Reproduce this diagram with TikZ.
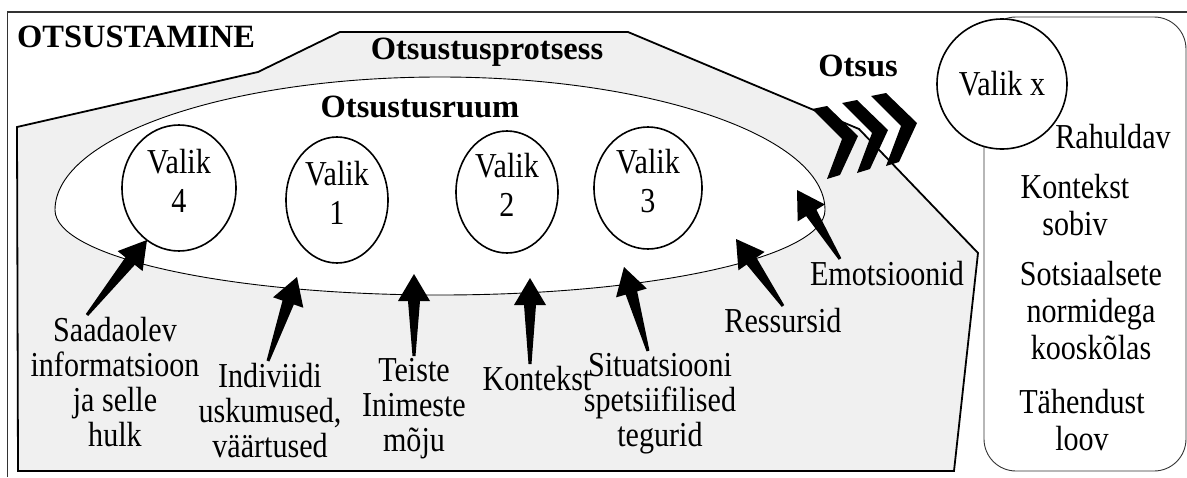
\documentclass[tikz,border=0pt]{standalone}
\usepackage{fontspec}
\setmainfont{Liberation Serif}[FakeStretch=0.86]
\newfontfamily\headfont{Liberation Serif}
\usetikzlibrary{calc,shapes.geometric}

% thick tapered arrow from tail #1 to tip #2
\newcommand{\fatarrow}[2]{%
  \coordinate (hb) at ($(#2)!27pt!(#1)$);
  \fill ($(#1)!1.5pt!90:(#2)$) -- ($(hb)!6pt!90:(#2)$) -- ($(hb)!16pt!90:(#2)$) -- (#2)
     -- ($(hb)!16pt!-90:(#2)$) -- ($(hb)!6pt!-90:(#2)$) -- ($(#1)!1.5pt!-90:(#2)$) -- cycle;
}
% one chevron with its outer point at (#1,#2)
\newcommand{\chevron}[2]{%
  \fill[shift={(#1,#2)}] (-46,-27) -- (-31,-30) -- (0,0) -- (-18,39) -- (-31,43) -- (-16,3) -- cycle;
}

\begin{document}
\begin{tikzpicture}[x=1pt,y=-1pt,
    lbl/.style={font=\fontsize{35}{35}\selectfont, align=center, inner sep=0pt},
    rlbl/.style={font=\fontsize{35}{37}\selectfont, align=center, inner sep=0pt},
    ttl/.style={font=\headfont\bfseries\fontsize{32.5}{36}\selectfont, inner sep=0pt},
    choice/.style={ellipse, draw, line width=1.6pt, fill=white, inner sep=0pt,
                   align=center, font=\fontsize{35}{39}\selectfont}]
  \useasboundingbox (0,0) rectangle (1187,477);

  % Outer frame
  \draw[line width=1.2pt, black!80] (7.5,477) -- (7.5,12) -- (1187,12);
  \node[ttl, anchor=base west] (main) at (17,47) {OTSUSTAMINE};

  % Decision process
  \draw[line width=1.8pt, fill=black!6] (17,127) -- (258,72) -- (340,32) -- (628,32)
      -- (859,129) -- (978,253) -- (954,471) -- (18,471) -- cycle;
  \node[ttl, anchor=base] (proc) at (487,59) {Otsustusprotsess};

  % Decision space
  \draw[line width=0.9pt, fill=white] (825,210)
      arc[start angle=0, end angle=-180, x radius=385, y radius=133]
      arc[start angle=180, end angle=0, x radius=385, y radius=85] -- cycle;
  \node[ttl, anchor=base] (space) at (420,117) {Otsustusruum};

  % Choices
  \node[choice, minimum width=114pt, minimum height=126pt] (v4) at (179,188) {Valik\\4\rule[-14pt]{0pt}{0pt}};
  \node[choice, minimum width=102pt, minimum height=126pt] (v1) at (337,200) {Valik\\1\rule[-14pt]{0pt}{0pt}};
  \node[choice, minimum width=102pt, minimum height=122pt] (v2) at (507,192) {Valik\\2\rule[-14pt]{0pt}{0pt}};
  \node[choice, minimum width=108pt, minimum height=122pt] (v3) at (648,188) {Valik\\3\rule[-14pt]{0pt}{0pt}};

  % Influences
  \node[lbl, anchor=north] (info) at (115,317) {Saadaolev\\informatsioon\\ja selle\\hulk};
  \node[lbl, anchor=north] (indiv) at (270,363) {Indiviidi\\uskumused,\\väärtused};
  \node[lbl, anchor=north] (others) at (414,358) {Teiste\\Inimeste\\mõju};
  \node[lbl, anchor=north] (context) at (537,366) {Kontekst};
  \node[lbl, anchor=north] (situ) at (660,353) {Situatsiooni\\spetsiifilised\\tegurid};
  \node[lbl, anchor=north] (res) at (783,308) {Ressursid};
  \node[lbl, anchor=north] (emo) at (887,261) {Emotsioonid};

  \coordinate (a1) at ([xshift=-28pt,yshift=2pt]info.north);
  \coordinate (a2) at ([xshift=-2pt,yshift=2pt]indiv.north);
  \coordinate (a3) at ([yshift=2pt]others.north);
  \coordinate (a4) at ([xshift=-7pt,yshift=2pt]context.north);
  \coordinate (a5) at ([xshift=-12pt,yshift=2pt]situ.north);
  \coordinate (a6) at ([yshift=2pt]res.north);
  \coordinate (a7) at ([xshift=-47pt,yshift=2pt]emo.north);
  \foreach \i/\hx/\hy in {1/147/240, 2/297/277, 3/414/274, 4/530/278, 5/624/267, 6/736/239, 7/797/190}
    \coordinate (b\i) at (\hx,\hy);
  \foreach \i in {1,...,7} {\fatarrow{a\i}{b\i}}

  % Decision
  \foreach \cx/\cy in {858/136, 888/130, 917/123} {\chevron{\cx}{\cy}}
  \node[ttl, anchor=base] (dec) at (858,76) {Otsus};

  % Chosen option and its qualities
  \draw[line width=0.9pt, black!80, rounded corners=32pt] (984,17) rectangle (1186,471);
  \node[choice, circle, minimum size=130pt] (vx) at (1002,84) {Valik x};
  \node[rlbl, anchor=base] (q1) at (1113,148) {Rahuldav};
  \node[rlbl, anchor=north] (q2) at (1075,174) {Kontekst\\sobiv};
  \node[rlbl, anchor=north] (q3) at (1091,261) {Sotsiaalsete\\normidega\\kooskõlas};
  \node[rlbl, anchor=north] (q4) at (1082,389) {Tähendust\\loov};
\end{tikzpicture}
\end{document}
